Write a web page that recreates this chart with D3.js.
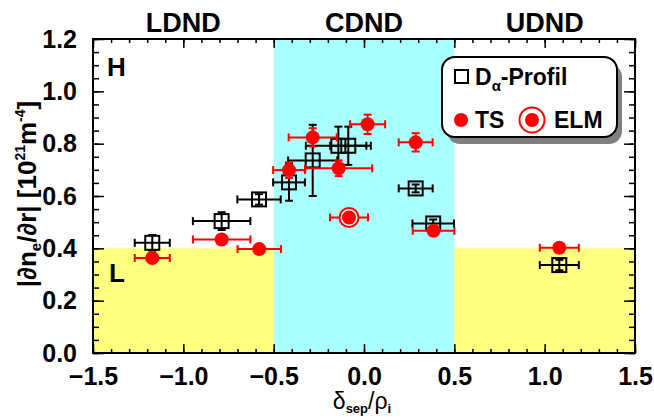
<!DOCTYPE html>
<html>
<head>
<meta charset="utf-8">
<script src="https://cdn.jsdelivr.net/npm/d3@7"></script>
<style>
  body { margin: 0; background: #fff; }
  text { font-family: "Liberation Sans", Arial, sans-serif; font-weight: bold; }
</style>
</head>
<body>
<svg id="chart" width="654" height="418"></svg>
<script>
// region labels and boundaries
var regionNames = ["LDND", "CDND", "UDND"];
var regionEdges = [-1.5, -0.5, 0.5, 1.5];
var lModeLimit = 0.4;

// D-alpha profile points (open squares)
var daX    = [-1.172, -0.788, -0.581, -0.415, -0.284, -0.142, -0.087, 0.286, 0.383, 1.081];
var daY    = [0.421, 0.504, 0.587, 0.652, 0.736, 0.792, 0.792, 0.629, 0.495, 0.336];
var daXErr = [0.097, 0.159, 0.12, 0.088, 0.136, 0.18, 0.1, 0.094, 0.115, 0.108];
var daYErr = [0.03, 0.034, 0.02, 0.07, 0.136, 0.073, 0.073, 0.015, 0.015, 0.02];

// Thomson scattering points (red dots)
var tsX    = [-1.172, -0.788, -0.580, -0.415, -0.284, -0.140, 0.020, 0.286, 0.385, 1.081];
var tsY    = [0.363, 0.434, 0.397, 0.699, 0.824, 0.706, 0.874, 0.805, 0.467, 0.402];
var tsXErr = [0.097, 0.159, 0.12, 0.088, 0.133, 0.185, 0.097, 0.094, 0.115, 0.108];
var tsYErr = [0.01, 0.01, 0.01, 0.03, 0.035, 0.03, 0.037, 0.035, 0.01, 0.01];

// ELM point
var elmX    = [-0.083];
var elmY    = [0.518];
var elmXErr = [0.105];
var elmYErr = [0.015];

var xTicks = [-1.5, -1.0, -0.5, 0.0, 0.5, 1.0, 1.5];
var yTicks = [0.0, 0.2, 0.4, 0.6, 0.8, 1.0, 1.2];

var svg = d3.select("#chart");
var x = d3.scaleLinear().domain([-1.5, 1.5]).range([93, 635]);
var y = d3.scaleLinear().domain([0, 1.2]).range([353, 39]);

var cyan = "#aaffff", yellow = "#ffff80", red = "#ff0000";

// background regions
svg.append("rect").attr("x", x(regionEdges[1])).attr("y", y(1.2))
  .attr("width", x(regionEdges[2]) - x(regionEdges[1])).attr("height", y(0) - y(1.2))
  .attr("fill", cyan);
[[regionEdges[0], regionEdges[1]], [regionEdges[2], regionEdges[3]]].forEach(function(r) {
  svg.append("rect").attr("x", x(r[0])).attr("y", y(lModeLimit))
    .attr("width", x(r[1]) - x(r[0])).attr("height", y(0) - y(lModeLimit))
    .attr("fill", yellow);
});

// region names on top
regionNames.forEach(function(n, i) {
  svg.append("text").attr("x", x((regionEdges[i] + regionEdges[i + 1]) / 2)).attr("y", 32)
    .attr("text-anchor", "middle").attr("font-size", 27).text(n);
});

// axes
function styleAxis(g, w) {
  g.select(".domain").remove();
  g.selectAll("line").attr("stroke", "#000").attr("stroke-width", w);
  g.selectAll("text").attr("font-size", 25).attr("fill", "#000")
    .style("font-family", "'Liberation Sans', Arial, sans-serif").style("font-weight", "bold");
}
var xMinor = d3.range(-1.5, 1.501, 0.1);
var yMinor = d3.range(0, 1.201, 0.05);

svg.append("g").attr("transform", "translate(0," + y(0) + ")")
  .call(d3.axisBottom(x).tickValues(xMinor).tickSize(-4).tickFormat(""))
  .call(styleAxis, 1.5);
svg.append("g").attr("transform", "translate(0," + y(0) + ")")
  .call(d3.axisBottom(x).tickValues(xTicks).tickSize(-9).tickPadding(14).tickFormat(d3.format(".1f")))
  .call(styleAxis, 1.5);
svg.append("g").attr("transform", "translate(0," + y(1.2) + ")")
  .call(d3.axisTop(x).tickValues(xMinor).tickSize(-4).tickFormat(""))
  .call(styleAxis, 1.5);
svg.append("g").attr("transform", "translate(0," + y(1.2) + ")")
  .call(d3.axisTop(x).tickValues(xTicks).tickSize(-9).tickFormat(""))
  .call(styleAxis, 1.5);

svg.append("g").attr("transform", "translate(" + x(-1.5) + ",0)")
  .call(d3.axisLeft(y).tickValues(yMinor).tickSize(-6).tickFormat(""))
  .call(styleAxis, 1.5);
svg.append("g").attr("transform", "translate(" + x(-1.5) + ",0)")
  .call(d3.axisLeft(y).tickValues(yTicks).tickSize(-11).tickPadding(16).tickFormat(d3.format(".1f")))
  .call(styleAxis, 1.5);
svg.append("g").attr("transform", "translate(" + x(1.5) + ",0)")
  .call(d3.axisRight(y).tickValues(yMinor).tickSize(-6).tickFormat(""))
  .call(styleAxis, 1.5);
svg.append("g").attr("transform", "translate(" + x(1.5) + ",0)")
  .call(d3.axisRight(y).tickValues(yTicks).tickSize(-11).tickFormat(""))
  .call(styleAxis, 1.5);

// frame
svg.append("rect").attr("x", x(-1.5)).attr("y", y(1.2))
  .attr("width", x(1.5) - x(-1.5)).attr("height", y(0) - y(1.2))
  .attr("fill", "none").attr("stroke", "#000").attr("stroke-width", 2);

// H / L labels
svg.append("text").attr("x", 107).attr("y", 76).attr("font-size", 26).text("H");
svg.append("text").attr("x", 109).attr("y", 282).attr("font-size", 26).text("L");

// error bars
function errorBars(xs, ys, xe, ye, color) {
  var g = svg.append("g").attr("stroke", color).attr("stroke-width", 2).attr("fill", "none");
  xs.forEach(function(xv, i) {
    var cx = x(xv), cy = y(ys[i]);
    var x0 = x(xv - xe[i]), x1 = x(xv + xe[i]);
    var y0 = y(ys[i] - ye[i]), y1 = y(ys[i] + ye[i]);
    g.append("line").attr("x1", x0).attr("x2", x1).attr("y1", cy).attr("y2", cy);
    g.append("line").attr("x1", x0).attr("x2", x0).attr("y1", cy - 4).attr("y2", cy + 4);
    g.append("line").attr("x1", x1).attr("x2", x1).attr("y1", cy - 4).attr("y2", cy + 4);
    g.append("line").attr("x1", cx).attr("x2", cx).attr("y1", y0).attr("y2", y1);
    g.append("line").attr("x1", cx - 4).attr("x2", cx + 4).attr("y1", y0).attr("y2", y0);
    g.append("line").attr("x1", cx - 4).attr("x2", cx + 4).attr("y1", y1).attr("y2", y1);
  });
}

errorBars(daX, daY, daXErr, daYErr, "#000");
svg.append("g").selectAll("rect").data(daX).join("rect")
  .attr("x", function(d) { return x(d) - 7; })
  .attr("y", function(d, i) { return y(daY[i]) - 7; })
  .attr("width", 14).attr("height", 14)
  .attr("fill", "none").attr("stroke", "#000").attr("stroke-width", 2);

errorBars(tsX, tsY, tsXErr, tsYErr, red);
svg.append("g").selectAll("circle").data(tsX).join("circle")
  .attr("cx", function(d) { return x(d); })
  .attr("cy", function(d, i) { return y(tsY[i]); })
  .attr("r", 7).attr("fill", red);

errorBars(elmX, elmY, elmXErr, elmYErr, red);
var elm = svg.append("g").selectAll("g").data(elmX).join("g")
  .attr("transform", function(d, i) { return "translate(" + x(d) + "," + y(elmY[i]) + ")"; });
elm.append("circle").attr("r", 9.5).attr("fill", "#fff").attr("stroke", red).attr("stroke-width", 2);
elm.append("circle").attr("r", 7).attr("fill", red);

// legend
var lg = svg.append("g");
lg.append("rect").attr("x", 447).attr("y", 64).attr("width", 175).attr("height", 80)
  .attr("rx", 13).attr("fill", "#808080");
lg.append("rect").attr("x", 442).attr("y", 57).attr("width", 175).attr("height", 80)
  .attr("rx", 13).attr("fill", "#fff").attr("stroke", "#000").attr("stroke-width", 2);
lg.append("rect").attr("x", 455).attr("y", 70).attr("width", 13).attr("height", 13)
  .attr("fill", "none").attr("stroke", "#000").attr("stroke-width", 2);
var t1 = lg.append("text").attr("x", 475).attr("y", 85).attr("font-size", 23);
t1.append("tspan").text("D");
t1.append("tspan").attr("font-size", 15).attr("dy", 6).text("α");
t1.append("tspan").attr("dy", -6).text("-Profil");
lg.append("circle").attr("cx", 461).attr("cy", 120).attr("r", 7).attr("fill", red);
lg.append("text").attr("x", 475).attr("y", 128).attr("font-size", 23).text("TS");
lg.append("circle").attr("cx", 532).attr("cy", 120).attr("r", 12.5)
  .attr("fill", "#fff").attr("stroke", red).attr("stroke-width", 2);
lg.append("circle").attr("cx", 532).attr("cy", 120).attr("r", 7).attr("fill", red);
lg.append("text").attr("x", 554).attr("y", 128).attr("font-size", 23).text("ELM");

// x axis title
var xt = svg.append("text").attr("x", 362).attr("y", 409).attr("text-anchor", "middle").attr("font-size", 23);
xt.append("tspan").attr("font-weight", "normal").text("δ");
xt.append("tspan").attr("font-size", 13).attr("dy", 4).text("sep");
xt.append("tspan").attr("dy", -4).attr("font-weight", "normal").text("/ρ");
xt.append("tspan").attr("font-size", 13).attr("dy", 4).text("i");

// y axis title
var yt = svg.append("text").attr("transform", "translate(36,194) rotate(-90)")
  .attr("text-anchor", "middle").attr("font-size", 26);
yt.append("tspan").text("|∂n");
yt.append("tspan").attr("font-size", 15).attr("dy", 5).text("e");
yt.append("tspan").attr("dy", -5).text("/∂r| [10");
yt.append("tspan").attr("font-size", 14).attr("dy", -11).text("21");
yt.append("tspan").attr("dy", 11).text("m");
yt.append("tspan").attr("font-size", 14).attr("dy", -11).text("-4");
yt.append("tspan").attr("dy", 11).text("]");
</script>
</body>
</html>
